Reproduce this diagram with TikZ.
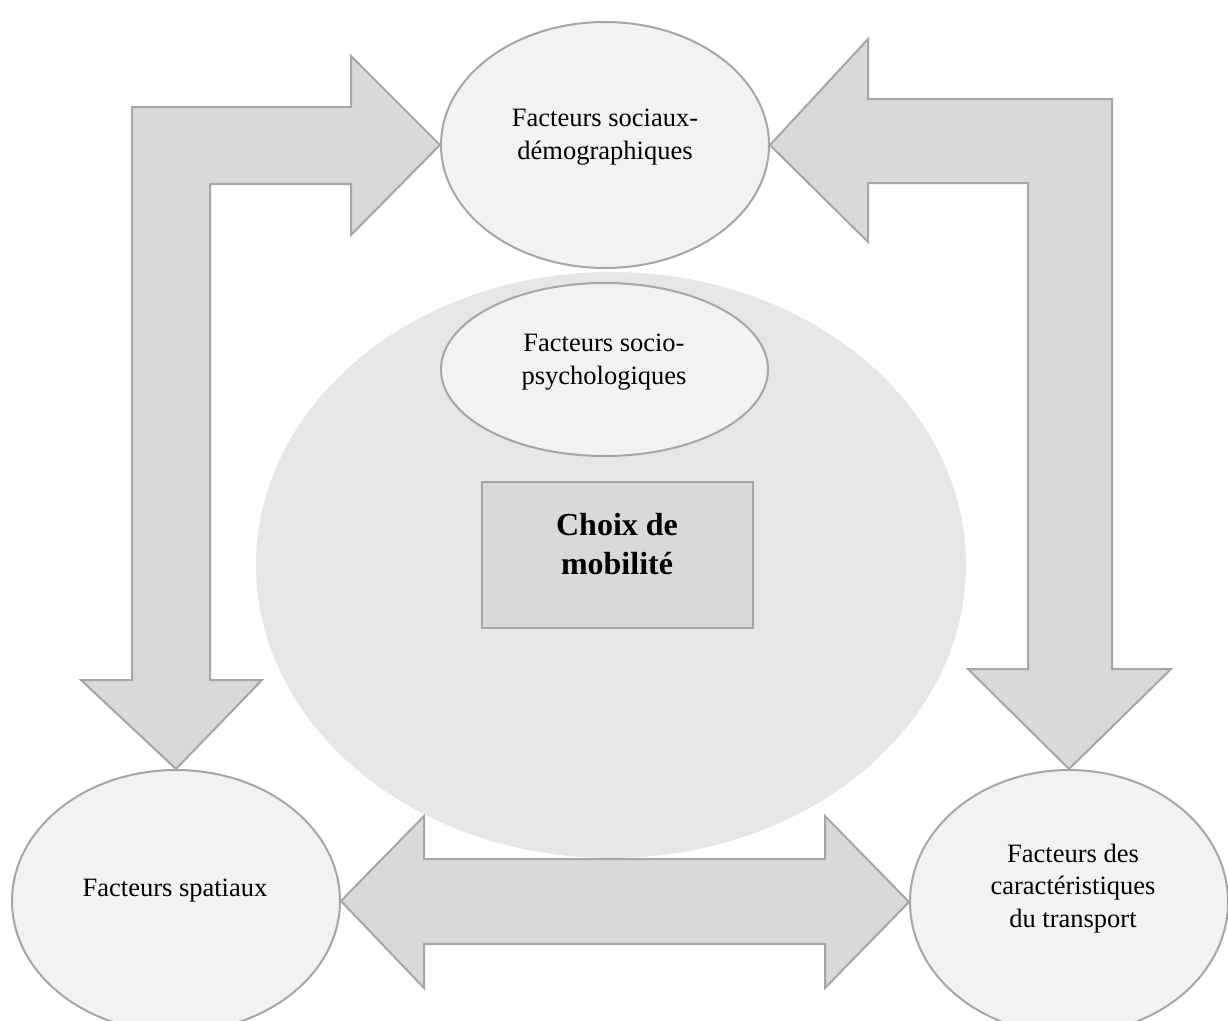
\documentclass[tikz,border=0pt]{standalone}
\usepackage{fontspec}
\setmainfont{Liberation Serif}
\usetikzlibrary{shapes.geometric}
\definecolor{edgegray}{HTML}{A6A6A6}
\definecolor{nodefill}{HTML}{F2F2F2}
\definecolor{arrowfill}{HTML}{D9D9D9}
\definecolor{bigfill}{HTML}{E6E6E6}
\begin{document}
\begin{tikzpicture}[x=1pt,y=-1pt,
  factor/.style={ellipse, draw=edgegray, fill=nodefill, line width=2pt, inner sep=0pt},
  blockarrow/.style={draw=edgegray, fill=arrowfill, line width=2pt, line join=miter},
  lbl/.style={font=\fontsize{26.5}{32.5}\selectfont, align=center, anchor=base, inner sep=0pt},
  boldlbl/.style={font=\fontsize{32}{39}\selectfont\bfseries, align=center, anchor=base, inner sep=0pt},
]
\clip (0,0) rectangle (1228,1020);
\fill[white] (0,0) rectangle (1228,1020);

% large background ellipse
\node[ellipse, fill=bigfill, inner sep=0pt, minimum width=710pt, minimum height=586pt] (cloud) at (611,565) {};

% factor ellipses
\node[factor, minimum width=328pt, minimum height=246pt] (socdem) at (605,145) {};
\node[factor, minimum width=327pt, minimum height=173pt] (psych) at (604.5,369.5) {};
\node[factor, minimum width=328pt, minimum height=262pt] (spatial) at (176,901) {};
\node[factor, minimum width=318pt, minimum height=264pt] (transport) at (1069,902) {};

% central box
\node[draw=edgegray, fill=arrowfill, line width=2pt, inner sep=0pt,
      minimum width=271pt, minimum height=146pt] (choix) at (617.5,555) {};

% block arrows
\draw[blockarrow] (socdem.west) -- (351,56) -- (351,107) -- (132,107) -- (132,680)
  -- (81,680) -- (spatial.north) -- (262,680) -- (210,680) -- (210,184)
  -- (351,184) -- (351,235) -- cycle;
\draw[blockarrow] (socdem.east) -- (868,39) -- (868,99) -- (1112,99) -- (1112,669)
  -- (1171,669) -- (transport.north) -- (968,669) -- (1028,669) -- (1028,183)
  -- (868,183) -- (868,242) -- cycle;
\draw[blockarrow] (spatial.east) -- (424,816) -- (424,859) -- (825,859) -- (825,816)
  -- (transport.west) -- (825,988) -- (825,944) -- (424,944) -- (424,988) -- cycle;

% labels (base anchor = baseline of the last line)
\node[lbl] (t-socdem) at (605,159) {Facteurs sociaux-\\démographiques};
\node[lbl] (t-psych) at (604,384) {Facteurs socio-\\psychologiques};
\node[lbl] (t-spatial) at (175,896) {Facteurs spatiaux};
\node[lbl] (t-transport) at (1073,927) {Facteurs des\\caractéristiques\\du transport};
\node[boldlbl] (t-choix) at (617,574) {Choix de\\mobilité};
\end{tikzpicture}
\end{document}
